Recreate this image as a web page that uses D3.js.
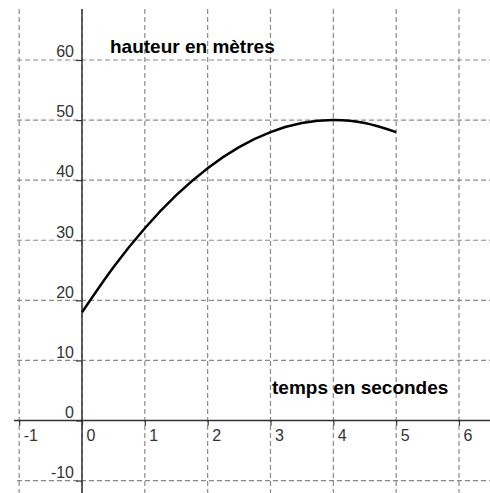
<!DOCTYPE html>
<html>
<head>
<meta charset="utf-8">
<script src="https://cdn.jsdelivr.net/npm/d3@7"></script>
<style>
  body { margin: 0; background: #fff; }
  text { font-family: "Liberation Sans", Arial, sans-serif; }
</style>
</head>
<body>
<script>
// values
const temps = [0, 0.5, 1, 1.5, 2, 2.5, 3, 3.5, 4, 4.5, 5];
const hauteur = [18, 25.5, 32, 37.5, 42, 45.5, 48, 49.5, 50, 49.5, 48];
const xTicks = [-1, 0, 1, 2, 3, 4, 5, 6];
const yTicks = [-10, 0, 10, 20, 30, 40, 50, 60];

const W = 490, H = 493;
const svg = d3.select('body').append('svg')
  .attr('width', W).attr('height', H);

const x = d3.scaleLinear().domain([0, 6]).range([82, 459]);
const y = d3.scaleLinear().domain([0, 60]).range([420.5, 60]);

// grid
svg.append('g').selectAll('line').data(xTicks).join('line')
  .attr('x1', d => x(d)).attr('x2', d => x(d))
  .attr('y1', 9).attr('y2', H)
  .style('stroke', '#8a8a8a').style('stroke-width', 1.2)
  .style('stroke-dasharray', '5,3');
svg.append('g').selectAll('line').data(yTicks).join('line')
  .attr('x1', 17).attr('x2', W)
  .attr('y1', d => y(d)).attr('y2', d => y(d))
  .style('stroke', '#8a8a8a').style('stroke-width', 1.2)
  .style('stroke-dasharray', '5,3');

// axes
svg.append('line')
  .attr('x1', x(0)).attr('x2', x(0)).attr('y1', 9).attr('y2', H)
  .style('stroke', '#333').style('stroke-width', 1.5);
svg.append('line')
  .attr('x1', 14).attr('x2', W).attr('y1', y(0)).attr('y2', y(0))
  .style('stroke', '#333').style('stroke-width', 1.5);

const yAxis = svg.append('g')
  .attr('transform', `translate(${x(0)},0)`)
  .call(d3.axisLeft(y).tickValues(yTicks).tickSize(6).tickFormat(d => String(d)));
yAxis.select('.domain').remove();
yAxis.selectAll('.tick line').style('stroke', '#333').style('stroke-width', 1.2);
yAxis.selectAll('.tick text')
  .attr('x', -8).attr('dy', '-0.2em')
  .style('font-size', '16px').style('fill', '#333');

const xAxis = svg.append('g')
  .attr('transform', `translate(0,${y(0)})`)
  .call(d3.axisBottom(x).tickValues(xTicks).tickSize(5).tickFormat(d => String(d)));
xAxis.select('.domain').remove();
xAxis.selectAll('.tick line').style('stroke', '#333').style('stroke-width', 1.2);
xAxis.selectAll('.tick text')
  .attr('x', 4).attr('y', 6).attr('dy', '0.9em')
  .attr('text-anchor', 'start')
  .style('font-size', '16px').style('fill', '#333');

// curve
const pts = temps.map((t, i) => [t, hauteur[i]]);
svg.append('path').datum(pts)
  .attr('d', d3.line().x(d => x(d[0])).y(d => y(d[1])).curve(d3.curveNatural))
  .style('fill', 'none').style('stroke', '#000').style('stroke-width', 2.5);

// labels
svg.append('text').attr('x', 110).attr('y', 53)
  .style('font-size', '19px').style('font-weight', 'bold').style('fill', '#000')
  .text('hauteur en mètres');
svg.append('text').attr('x', 272).attr('y', 394)
  .style('font-size', '19px').style('font-weight', 'bold').style('fill', '#000')
  .text('temps en secondes');
</script>
</body>
</html>
